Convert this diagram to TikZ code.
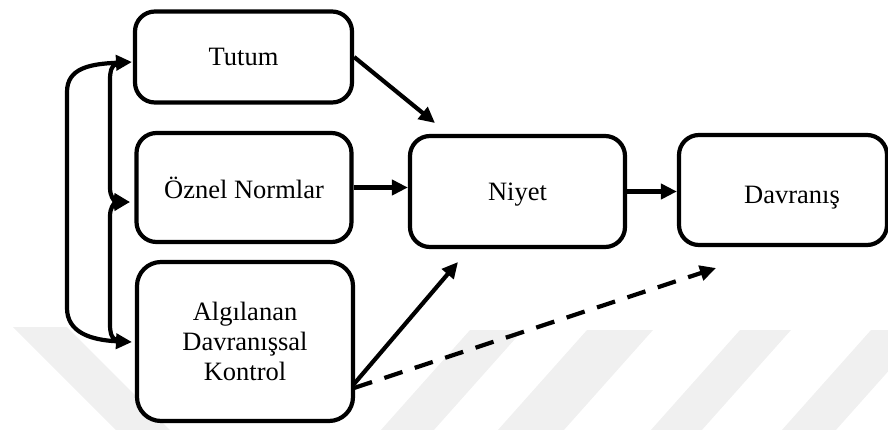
\documentclass[tikz,border=0pt]{standalone}
\usepackage{fontspec}
\setmainfont{Liberation Serif}
\usetikzlibrary{arrows.meta}
\begin{document}
\begin{tikzpicture}[x=1pt,y=-1pt,
  box/.style={draw, line width=4.2pt, rounded corners=20pt, fill=white, align=center,
              inner sep=0pt, font=\fontsize{26.5}{30}\selectfont},
  conn/.style={line width=4.2pt},
  arr/.style={-{Triangle[length=16pt,width=15pt]}},
  biarr/.style={{Triangle[length=16pt,width=15pt]}-{Triangle[length=16pt,width=15pt]}},
  wm/.style={fill=black!6}]
\path[use as bounding box] (0,0) rectangle (888,429);
\clip (0,0) rectangle (888,429);
% watermark stripes
\fill[wm] (13,327) -- (67,327) -- ++(113,113) -- ++(-54,0) -- cycle;
\fill[wm] (470,330) -- (523,330) -- ++(-98,110) -- ++(-53,0) -- cycle;
\fill[wm] (587,330) -- (653,330) -- ++(-98,110) -- ++(-66,0) -- cycle;
\fill[wm] (740,330) -- (791,330) -- ++(-98,110) -- ++(-51,0) -- cycle;
\fill[wm] (871,330) -- (925,330) -- ++(-98,110) -- ++(-54,0) -- cycle;
% boxes
\node[box, minimum width=217pt, minimum height=91pt] (tutum) at (243.5,57) {Tutum};
\node[box, minimum width=215pt, minimum height=109pt] (oznel) at (244,187.5) {Öznel Normlar};
\node[box, minimum width=216pt, minimum height=159pt, rounded corners=24pt] (alg) at (245,341.5) {Algılanan\\Davranışsal\\Kontrol};
\node[box, minimum width=215pt, minimum height=111pt, text height=17pt, text depth=0pt] (niyet) at (517.5,191.5) {Niyet};
\node[box, minimum width=208pt, minimum height=110pt, text height=26pt, text depth=0pt] (davr) at (783,190) {\hspace*{18pt}Davranış};
% connector end points
\coordinate (tN1) at (435,123);
\coordinate (tN2) at (458,262);
\coordinate (tD) at (716,268);
\coordinate (aOut) at (354,384);
\coordinate (aOut2) at (354,388);
\coordinate (bT) at (132,62);
\coordinate (bM) at (130,202);
\coordinate (bB) at (132,342);
% connectors
\draw[conn, arr] (tutum.east) -- (tN1);
\draw[conn, arr] (oznel.east) -- (oznel.east -| niyet.west);
\draw[conn, arr] (niyet.east) -- (niyet.east -| davr.west);
\draw[conn, arr] (aOut) -- (tN2);
\draw[conn, arr, dash pattern=on 19pt off 13pt] (aOut2) -- (tD);
% left bracket
\draw[conn, biarr] (bT) .. controls (90,64) and (67,68) .. (67,92) -- (67,308) .. controls (67,332) and (90,340) .. (bB);
\draw[conn, arr] (116,64) .. controls (111,66) and (110,72) .. (110,80) -- (110,188) .. controls (110,196) and (114,201) .. (bM);
\draw[conn, arr] (116,340) .. controls (111,338) and (110,332) .. (110,324) -- (110,216) .. controls (110,208) and (114,203) .. (bM);
\end{tikzpicture}
\end{document}
